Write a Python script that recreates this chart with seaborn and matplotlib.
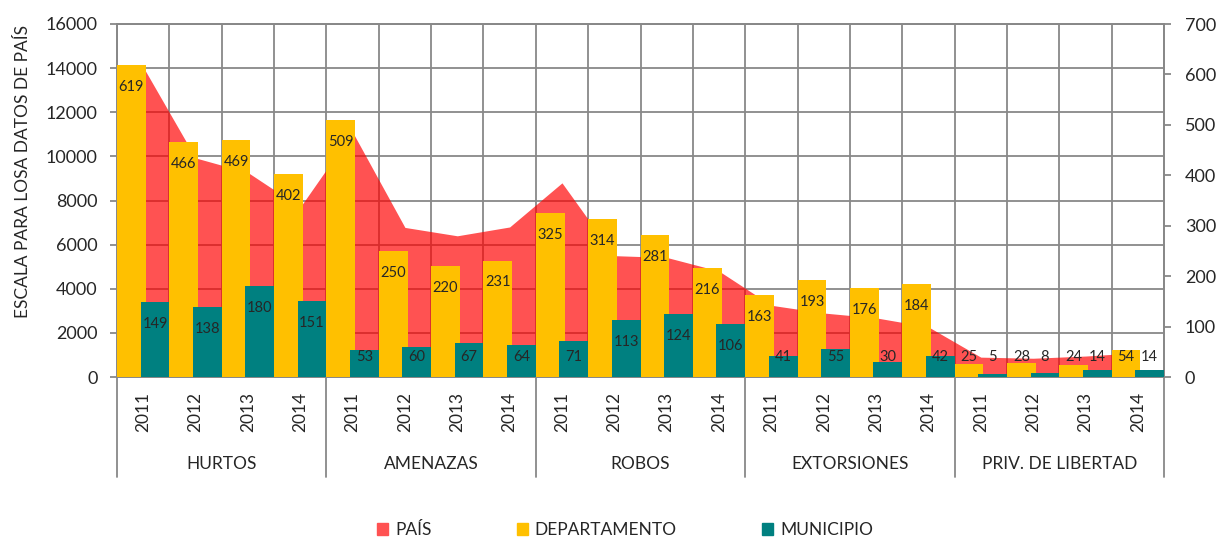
import numpy as np
import matplotlib
matplotlib.use("Agg")
import matplotlib.pyplot as plt
from matplotlib.patches import Patch
import seaborn as sns

# -----------------------------
# Data
# -----------------------------
groups = ["HURTOS", "AMENAZAS", "ROBOS", "EXTORSIONES", "PRIV. DE LIBERTAD"]
years = ["2011", "2012", "2013", "2014"]

pais = [14050, 9930, 9270, 7700,
        11100, 6780, 6400, 6800,
        8800, 5500, 5420, 4800,
        3250, 2900, 2680, 2270,
        900, 850, 950, 1100]
departamento = [619, 466, 469, 402,
                509, 250, 220, 231,
                325, 314, 281, 216,
                163, 193, 176, 184,
                25, 28, 24, 54]
municipio = [149, 138, 180, 151,
             53, 60, 67, 64,
             71, 113, 124, 106,
             41, 55, 30, 42,
             5, 8, 14, 14]

# -----------------------------
# Style
# -----------------------------
sns.set_style("white")
plt.rcParams["font.family"] = ["Lato", "DejaVu Sans"]

red = "#FF0000"
yellow = "#FFC000"
teal = "#008080"
grey = "#888888"

n = len(pais)
x = np.arange(n)
xlabels = years * len(groups)

fig = plt.figure(figsize=(12.2, 5.38), dpi=100)
ax = fig.add_axes([117 / 1220, 1 - 377 / 538, (1164 - 117) / 1220, 353 / 538])

# area (left axis)
ax.fill_between(x, pais, color=red, alpha=0.68, linewidth=0, zorder=2)
ax.set_ylim(0, 16000)
ax.set_yticks(np.arange(0, 16001, 2000))
ax.set_xlim(-0.5, n - 0.5)

# grid
ax.set_xticks(x)
ax.set_xticklabels(xlabels, rotation=90, fontsize=12.5)
ax.set_xticks(np.arange(-0.5, n, 1), minor=True)
ax.grid(True, which="minor", axis="x", color=grey, linewidth=1.3, zorder=1)
ax.grid(True, which="major", axis="y", color=grey, linewidth=1.3, zorder=1)
ax.set_axisbelow(True)
ax.tick_params(axis="x", which="major", length=0, pad=11)
ax.tick_params(axis="x", which="minor", length=42, color=grey, width=1.3)
ax.tick_params(axis="y", labelsize=13, length=5, color=grey, width=1.3, pad=9,
               left=True)
for s in ax.spines.values():
    s.set_color(grey)
    s.set_linewidth(1.3)

# group separators and labels
trans = ax.get_xaxis_transform()
for g in range(len(groups) + 1):
    ax.plot([g * 4 - 0.5, g * 4 - 0.5], [0, -0.283], color=grey, lw=1.3,
            transform=trans, clip_on=False)
for g, name in enumerate(groups):
    ax.text(g * 4 + 1.5, -0.246, name, transform=trans, ha="center",
            va="center", fontsize=12.5)

# bars (right axis)
ax2 = ax.twinx()
ax2.set_ylim(0, 700)
ax2.set_yticks(np.arange(0, 701, 100))
ax2.bar(x - 0.5, departamento, width=0.55, align="edge", color=yellow,
        linewidth=0, zorder=3)
ax2.bar(x - 0.05, municipio, width=0.55, align="edge", color=teal,
        linewidth=0, zorder=4)
ax2.tick_params(axis="y", labelsize=13, length=5, color=grey, width=1.3, pad=10,
                right=True)
for s in ax2.spines.values():
    s.set_color(grey)
    s.set_linewidth(1.3)

# data labels
for i in range(n):
    yd = max(departamento[i] - 43.6, 39.7)
    ax2.text(i - 0.225, yd, str(departamento[i]), ha="center", va="center",
             fontsize=10.5, zorder=5)
    ym = max(municipio[i] - 43.6, 39.7)
    ax2.text(i + 0.225, ym, str(municipio[i]), ha="center", va="center",
             fontsize=10.5, zorder=5)

fig.text(23 / 1220, 1 - 171 / 538, "ESCALA PARA LOSA DATOS DE PAÍS",
         rotation=90, ha="center", va="center", fontsize=12.5)

handles = [Patch(color="#FF5252", label="PAÍS"),
           Patch(color=yellow, label="DEPARTAMENTO"),
           Patch(color=teal, label="MUNICIPIO")]
fig.legend(handles=handles, loc="center", bbox_to_anchor=(625 / 1220, 1 - 530 / 538),
           ncol=3, frameon=False, fontsize=12.5, handlelength=0.65,
           handleheight=0.65, handletextpad=0.4, columnspacing=4.9)

plt.savefig("out.png", dpi=100)
